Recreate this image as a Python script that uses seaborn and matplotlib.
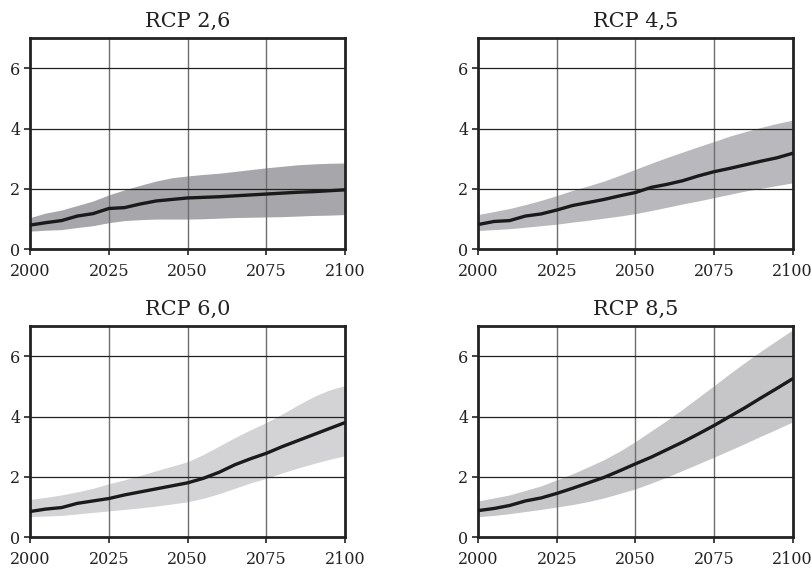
import numpy as np
import pandas as pd
import matplotlib
matplotlib.use("Agg")
import matplotlib.pyplot as plt
import seaborn as sns

years = list(range(2000, 2101, 5))

titles = ["RCP 2,6", "RCP 4,5", "RCP 6,0", "RCP 8,5"]

rcp26_mid = [0.80, 0.88, 0.95, 1.10, 1.18, 1.35, 1.38, 1.50, 1.60, 1.65, 1.70, 1.72, 1.74, 1.77, 1.80, 1.83, 1.86, 1.89, 1.91, 1.94, 1.97]
rcp26_hi = [1.05, 1.20, 1.30, 1.45, 1.60, 1.80, 1.97, 2.12, 2.26, 2.37, 2.43, 2.48, 2.52, 2.58, 2.64, 2.70, 2.75, 2.80, 2.83, 2.85, 2.86]
rcp26_lo = [0.60, 0.63, 0.65, 0.72, 0.78, 0.88, 0.95, 0.98, 1.00, 1.00, 1.00, 1.01, 1.03, 1.05, 1.06, 1.07, 1.08, 1.10, 1.12, 1.13, 1.15]

rcp45_mid = [0.82, 0.92, 0.95, 1.10, 1.17, 1.30, 1.45, 1.55, 1.65, 1.77, 1.88, 2.05, 2.15, 2.27, 2.43, 2.57, 2.68, 2.80, 2.92, 3.03, 3.18]
rcp45_hi = [1.15, 1.25, 1.35, 1.48, 1.62, 1.78, 1.95, 2.10, 2.26, 2.45, 2.65, 2.85, 3.04, 3.22, 3.40, 3.57, 3.75, 3.90, 4.04, 4.17, 4.28]
rcp45_lo = [0.62, 0.65, 0.68, 0.73, 0.78, 0.83, 0.90, 0.96, 1.03, 1.10, 1.18, 1.28, 1.39, 1.50, 1.60, 1.71, 1.82, 1.93, 2.02, 2.11, 2.20]

rcp60_mid = [0.85, 0.93, 0.98, 1.12, 1.20, 1.28, 1.40, 1.50, 1.60, 1.70, 1.80, 1.95, 2.15, 2.40, 2.60, 2.78, 3.00, 3.20, 3.40, 3.60, 3.80]
rcp60_hi = [1.25, 1.32, 1.40, 1.50, 1.62, 1.77, 1.90, 2.05, 2.20, 2.35, 2.50, 2.74, 3.02, 3.30, 3.56, 3.80, 4.08, 4.38, 4.66, 4.88, 5.03]
rcp60_lo = [0.68, 0.70, 0.72, 0.77, 0.82, 0.87, 0.92, 0.97, 1.03, 1.10, 1.17, 1.29, 1.44, 1.62, 1.80, 1.95, 2.13, 2.29, 2.44, 2.58, 2.70]

rcp85_mid = [0.88, 0.95, 1.05, 1.20, 1.30, 1.45, 1.62, 1.80, 1.98, 2.20, 2.43, 2.65, 2.90, 3.15, 3.42, 3.70, 4.00, 4.30, 4.62, 4.93, 5.25]
rcp85_hi = [1.20, 1.30, 1.40, 1.55, 1.70, 1.90, 2.10, 2.33, 2.57, 2.85, 3.17, 3.52, 3.87, 4.24, 4.63, 5.02, 5.42, 5.80, 6.17, 6.52, 6.87]
rcp85_lo = [0.68, 0.72, 0.78, 0.85, 0.92, 1.00, 1.08, 1.18, 1.30, 1.45, 1.60, 1.79, 1.99, 2.21, 2.43, 2.65, 2.88, 3.11, 3.35, 3.58, 3.82]

mids = [rcp26_mid, rcp45_mid, rcp60_mid, rcp85_mid]
his = [rcp26_hi, rcp45_hi, rcp60_hi, rcp85_hi]
los = [rcp26_lo, rcp45_lo, rcp60_lo, rcp85_lo]
band_colors = ["#a7a7ab", "#b9b9bd", "#d3d3d5", "#c6c6c8"]

xticks = [2000, 2025, 2050, 2075, 2100]
yticks = [0, 2, 4, 6]

sns.set_theme(style="white")
plt.rcParams['font.family'] = ['DejaVu Serif']

fig = plt.figure(figsize=(8.12, 5.69), dpi=100)
positions = [
    [0.037, 0.562, 0.388, 0.371],
    [0.589, 0.562, 0.387, 0.371],
    [0.037, 0.056, 0.388, 0.371],
    [0.589, 0.056, 0.387, 0.371],
]

for i in range(4):
    ax = fig.add_axes(positions[i])
    df = pd.DataFrame({"year": years, "mid": mids[i], "hi": his[i], "lo": los[i]})
    ax.fill_between(df["year"], df["lo"], df["hi"], color=band_colors[i], lw=0, zorder=1)
    sns.lineplot(data=df, x="year", y="mid", ax=ax, color="#1a1a1a", lw=2.4, zorder=3)
    ax.set_xlim(2000, 2100)
    ax.set_ylim(0, 7)
    ax.set_xticks(xticks)
    ax.set_yticks(yticks)
    ax.set_xlabel("")
    ax.set_ylabel("")
    for x in xticks[1:-1]:
        ax.axvline(x, color="#6e6e6e", lw=1.0, zorder=2)
    for y in yticks[1:]:
        ax.axhline(y, color="#222222", lw=0.9, zorder=2)
    for s in ax.spines.values():
        s.set_color("#222222")
        s.set_linewidth(2.0)
        s.set_visible(True)
    ax.tick_params(axis="both", direction="out", length=4, width=1.2, color="#222222",
                   labelsize=11.5, labelcolor="#222222", pad=3, bottom=True, left=True)
    ax.tick_params(axis="x", pad=6)
    ax.set_title(titles[i], fontsize=15, color="#222222", pad=8)

fig.savefig("out.png", dpi=100)
